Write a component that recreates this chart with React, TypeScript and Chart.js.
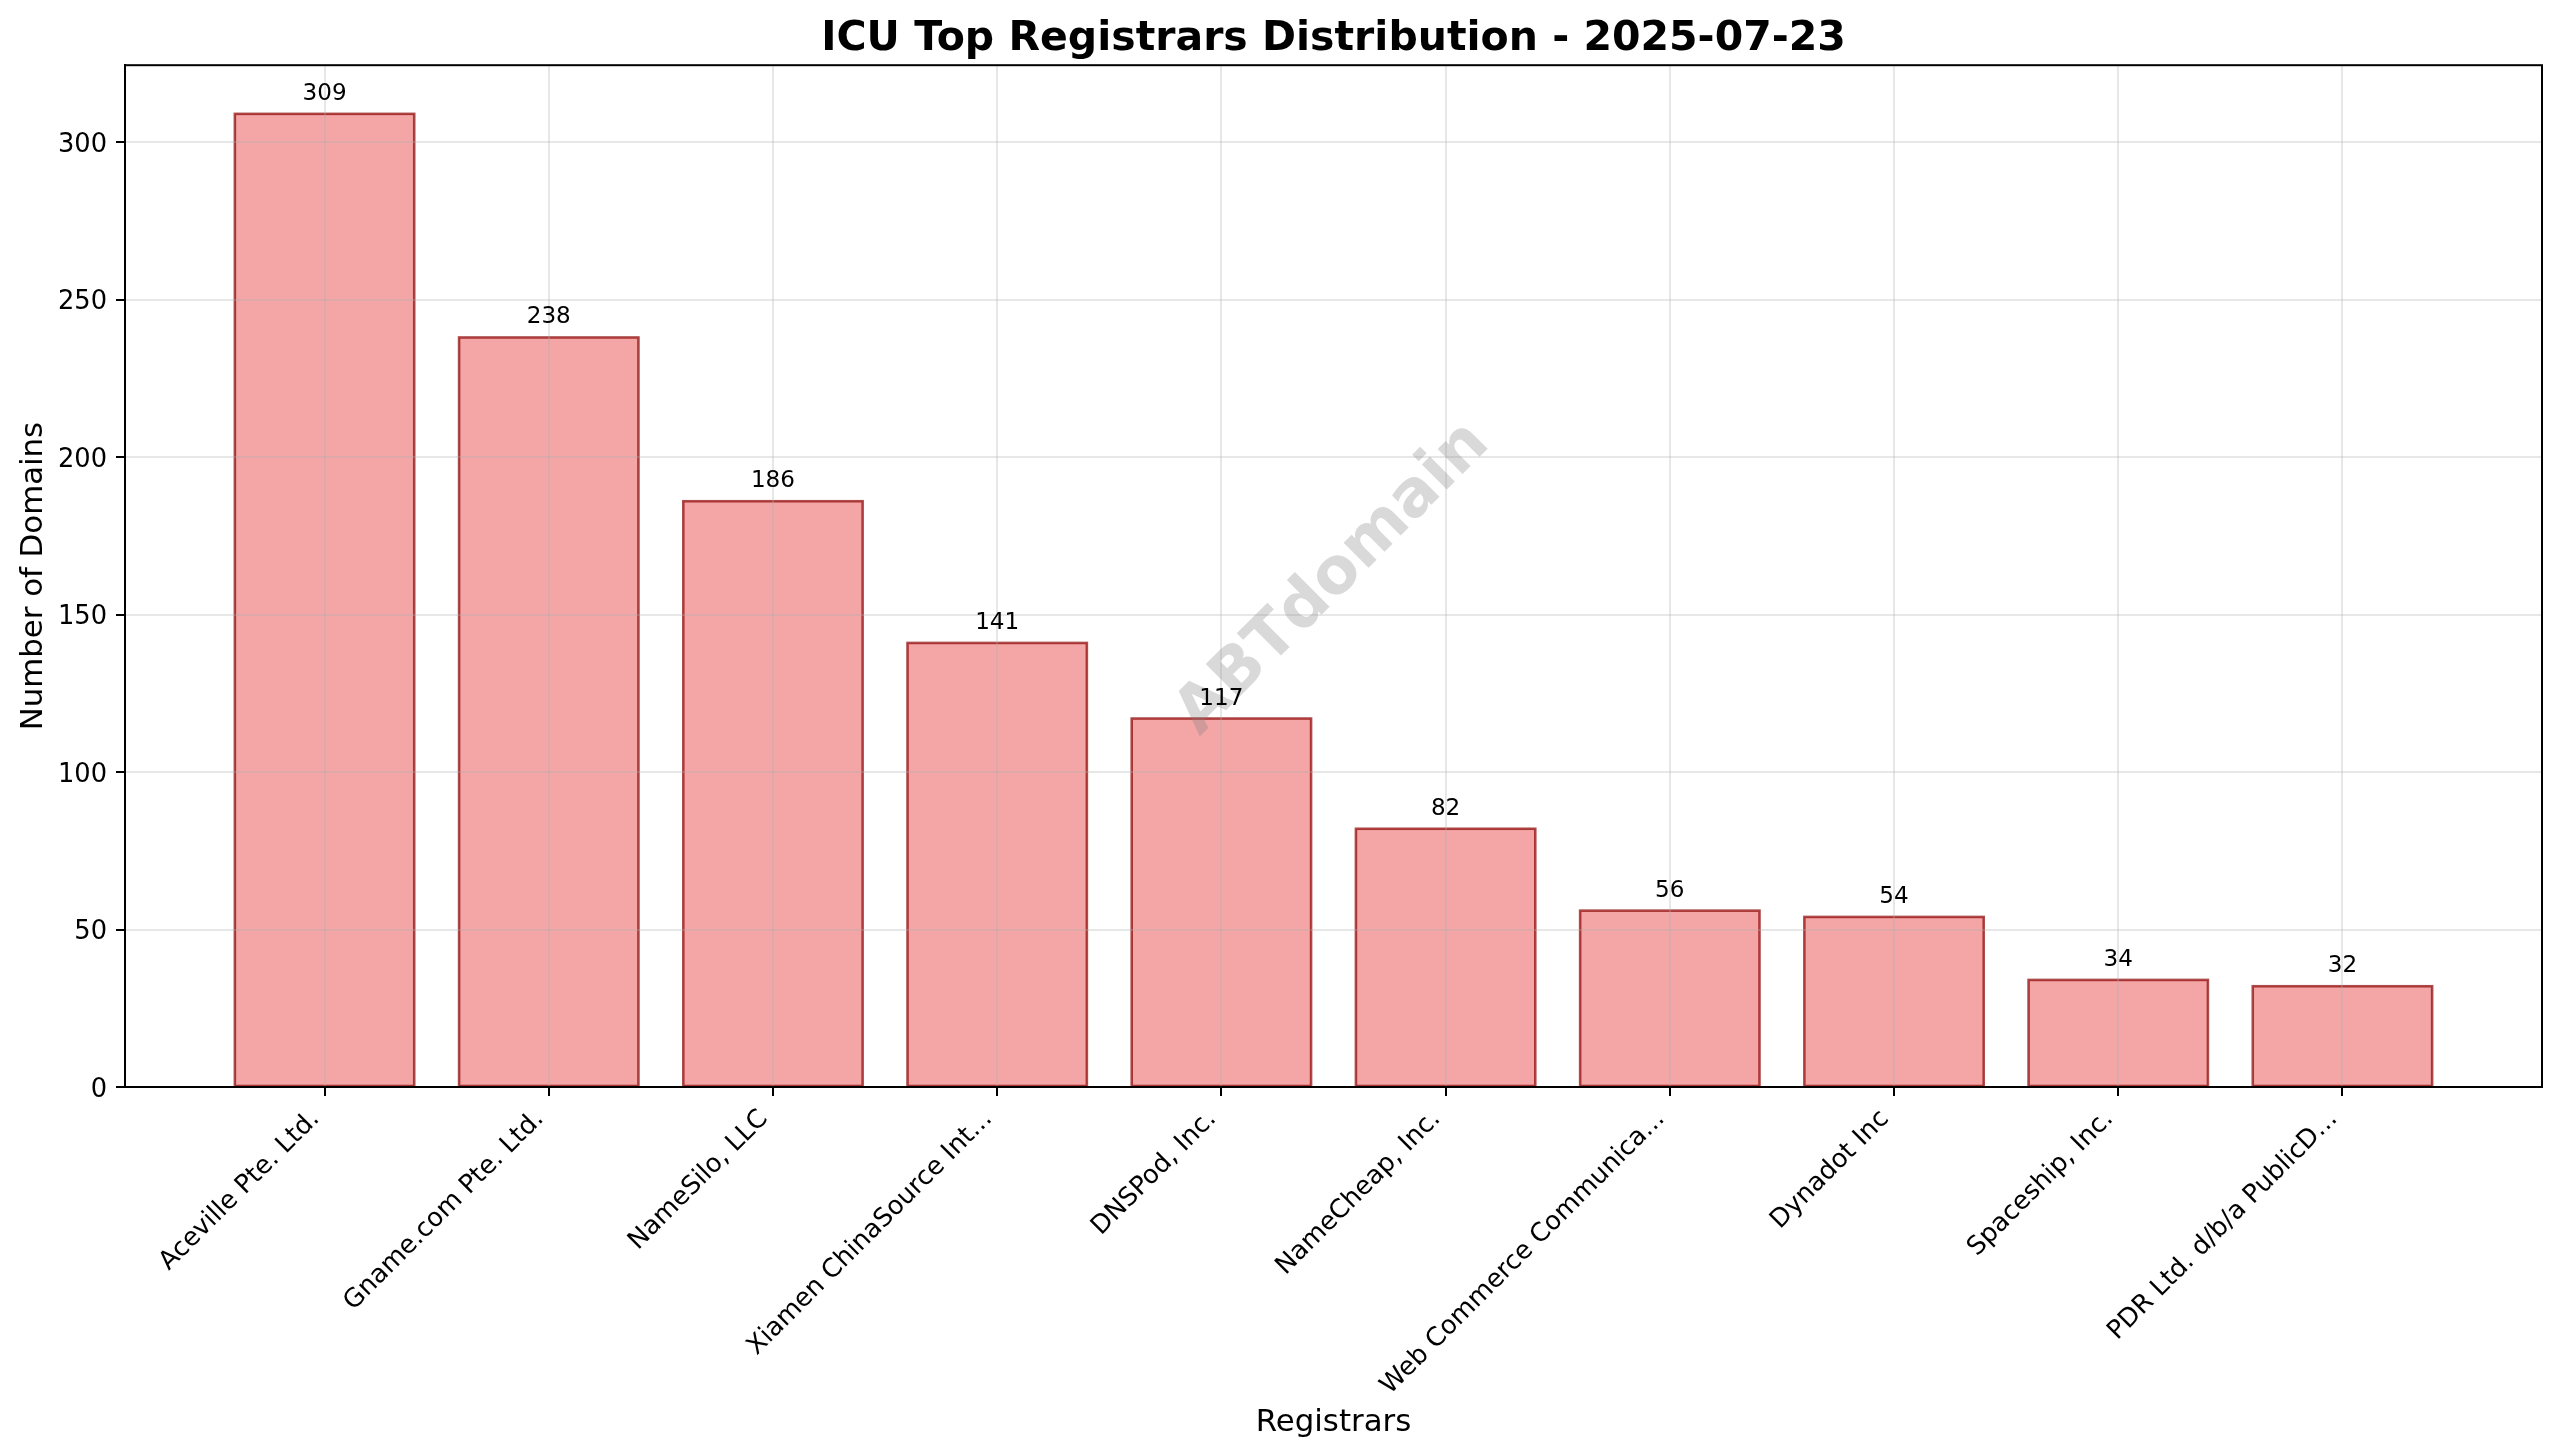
import { useEffect, useRef } from "react";
import { Chart, registerables } from "chart.js";

Chart.register(...registerables);

const registrars = [
  "Aceville Pte. Ltd.",
  "Gname.com Pte. Ltd.",
  "NameSilo, LLC",
  "Xiamen ChinaSource Int...",
  "DNSPod, Inc.",
  "NameCheap, Inc.",
  "Web Commerce Communica...",
  "Dynadot Inc",
  "Spaceship, Inc.",
  "PDR Ltd. d/b/a PublicD...",
];
const domains = [309, 238, 186, 141, 117, 82, 56, 54, 34, 32];

const FONT = '"DejaVu Sans"';
const GRID = "rgba(176,176,176,0.3)";

// edges, value labels, watermark and the two spines chart.js has no axis for
const decorations = {
  id: "decorations",
  afterDatasetsDraw(chart: any) {
    const ctx = chart.ctx;
    ctx.save();
    ctx.strokeStyle = "rgba(139,0,0,0.7)";
    ctx.lineWidth = 2.57;
    chart.getDatasetMeta(0).data.forEach((bar: any) => {
      ctx.strokeRect(bar.x - bar.width / 2, bar.y, bar.width, bar.base - bar.y);
    });
    ctx.restore();
  },
  afterDraw(chart: any) {
    const { ctx, chartArea: area } = chart;
    ctx.save();
    ctx.strokeStyle = "#000";
    ctx.lineWidth = 2;
    ctx.strokeRect(area.left, area.top, area.right - area.left, area.bottom - area.top);

    ctx.save();
    ctx.translate((area.left + area.right) / 2, (area.top + area.bottom) / 2 + 3);
    ctx.rotate(-Math.PI / 4);
    ctx.font = `bold 64.5px ${FONT}`;
    ctx.fillStyle = "rgba(128,128,128,0.3)";
    ctx.textAlign = "center";
    ctx.textBaseline = "middle";
    ctx.fillText("ABTdomain", 0, 0);
    ctx.restore();

    ctx.font = `23.1px ${FONT}`;
    ctx.fillStyle = "#000";
    ctx.textAlign = "center";
    ctx.textBaseline = "alphabetic";
    chart.getDatasetMeta(0).data.forEach((bar: any, i: number) => {
      ctx.fillText(String(domains[i]), bar.x, bar.y - 14);
    });
    ctx.restore();
  },
};

export default function App() {
  const canvasRef = useRef<HTMLCanvasElement | null>(null);

  useEffect(() => {
    document.body.style.margin = "0";
    const ctx = canvasRef.current?.getContext("2d");
    if (!ctx) return;

    const chart = new Chart(ctx, {
      type: "bar",
      data: {
        datasets: [
          {
            data: domains.map((value, i) => ({ x: i, y: value })),
            backgroundColor: "rgba(240,128,128,0.7)",
            borderWidth: 0,
            barPercentage: 0.8,
            categoryPercentage: 1,
          },
        ],
      },
      options: {
        responsive: false,
        animation: false,
        devicePixelRatio: 1,
        layout: { padding: { left: 0, right: 18, top: 0, bottom: 0 } },
        plugins: {
          legend: { display: false },
          tooltip: { enabled: false },
          title: {
            display: true,
            text: "ICU Top Registrars Distribution - 2025-07-23",
            color: "#000",
            fullSize: false,
            font: { family: FONT, size: 41, weight: "bold", lineHeight: 1.2 },
            padding: { top: 15, bottom: 1 },
          },
        },
        scales: {
          x: {
            type: "linear",
            min: -0.89,
            max: 9.89,
            offset: false,
            afterFit: (scale: any) => {
              scale.height = 368;
            },
            grid: {
              offset: false,
              z: 1,
              color: GRID,
              lineWidth: 2,
              tickColor: "#000",
              tickWidth: 2,
              tickLength: 9,
            },
            border: { color: "#000", width: 2, z: 2 },
            ticks: {
              stepSize: 1,
              includeBounds: false,
              autoSkip: false,
              minRotation: 45,
              maxRotation: 45,
              padding: 8,
              labelOffset: -9,
              color: "#000",
              font: { family: FONT, size: 25.7 },
              callback: (value: any) => registrars[value],
            },
            title: {
              display: true,
              text: "Registrars",
              color: "#000",
              font: { family: FONT, size: 30.8 },
              padding: { top: 0, bottom: 14 },
            },
          },
          y: {
            min: 0,
            max: 324.45,
            afterFit: (scale: any) => {
              scale.width = 125;
            },
            grid: {
              z: 1,
              color: GRID,
              lineWidth: 2,
              tickColor: "#000",
              tickWidth: 2,
              tickLength: 9,
            },
            border: { color: "#000", width: 2, z: 2 },
            ticks: {
              stepSize: 50,
              includeBounds: false,
              padding: 9,
              labelOffset: 3,
              color: "#000",
              font: { family: FONT, size: 25.7 },
            },
            title: {
              display: true,
              text: "Number of Domains",
              color: "#000",
              font: { family: FONT, size: 30.8 },
              padding: { top: 15.5, bottom: 0 },
            },
          },
        },
      },
      plugins: [decorations],
    } as any);

    return () => {
      chart.destroy();
    };
  }, []);

  return <canvas ref={canvasRef} width={2560} height={1455} style={{ display: "block" }}></canvas>;
}
